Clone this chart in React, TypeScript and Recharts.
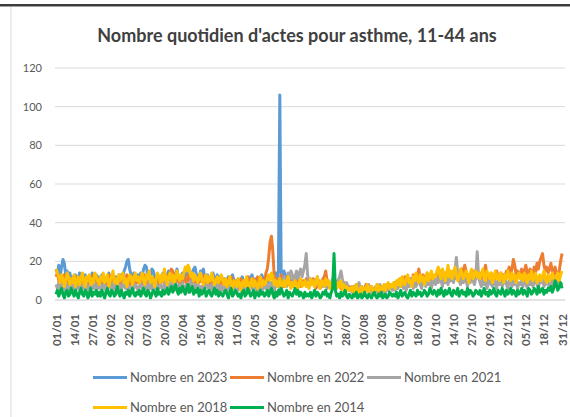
import React from "react";
import { LineChart, Line, XAxis, YAxis, CartesianGrid, Legend } from "recharts";

const MONTH_DAYS = [31, 28, 31, 30, 31, 30, 31, 31, 30, 31, 30, 31];

const X_TICKS = [
  "01/01", "14/01", "27/01", "09/02", "22/02", "07/03", "20/03", "02/04", "15/04", "28/04",
  "11/05", "24/05", "06/06", "19/06", "02/07", "15/07", "28/07", "10/08", "23/08", "05/09",
  "18/09", "01/10", "14/10", "27/10", "09/11", "22/11", "05/12", "18/12", "31/12",
];
const Y_TICKS = [0, 20, 40, 60, 80, 100, 120];

// 2023 (data until mid-June)
const S2023 = [
  16, 14, 18, 12, 17, 21, 19, 13, 15, 11, 14, 9, 12, 10, 13, 8, 11, 14, 10, 12, 9, 13, 11, 8, 12, 10, 14, 9, 11, 13, 10,
  12, 9, 13, 11, 10, 8, 12, 14, 11, 9, 13, 10, 12, 11, 9, 13, 10, 12, 15, 17, 20, 21, 16, 13, 11, 14, 12, 10,
  13, 11, 14, 12, 16, 18, 17, 13, 11, 12, 16, 15, 12, 10, 13, 11, 9, 12, 14, 11, 10, 13, 15, 12, 10, 14, 11, 13, 16, 12, 10,
  12, 14, 11, 13, 15, 12, 10, 13, 14, 16, 17, 13, 11, 12, 15, 14, 16, 12, 10, 13, 11, 9, 12, 14, 10, 11, 13, 9, 12, 10,
  9, 11, 8, 10, 12, 9, 11, 13, 10, 8, 9, 11, 7, 10, 12, 9, 8, 10, 11, 9, 12, 13, 10, 8, 11, 9, 10, 12, 13, 11, 9,
  10, 12, 9, 11, 13, 12, 10, 14, 11, 15, 106, 12, 9, 15, 13, 10, 12, 9, 11,
];

const S2022 = [
  12, 14, 10, 8, 11, 9, 13, 7, 10, 12, 8, 9, 11, 6, 10, 12, 9, 7, 10, 8, 11, 9, 12, 7, 10, 8, 11, 13, 9, 7, 10,
  9, 11, 8, 12, 10, 7, 9, 13, 11, 8, 10, 12, 9, 7, 11, 10, 8, 12, 9, 11, 13, 10, 8, 9, 12, 10, 7, 11,
  9, 12, 10, 8, 11, 13, 9, 7, 10, 12, 8, 11, 9, 10, 12, 8, 7, 11, 10, 9, 13, 12, 10, 14, 16, 15, 11, 9, 12, 10, 8,
  11, 9, 12, 10, 8, 13, 11, 9, 10, 12, 8, 7, 10, 9, 11, 13, 10, 8, 9, 11, 7, 10, 12, 9, 8, 11, 10, 7, 9, 12,
  8, 10, 7, 9, 11, 8, 12, 9, 7, 10, 8, 6, 9, 11, 7, 10, 8, 9, 12, 10, 7, 9, 11, 8, 10, 12, 9, 7, 11, 10, 8,
  14, 16, 22, 30, 33, 25, 12, 9, 11, 8, 10, 13, 9, 7, 10, 12, 8, 11, 9, 7, 10, 8, 12, 9, 11, 7, 9, 10, 8, 11,
  9, 7, 10, 8, 11, 9, 6, 8, 10, 7, 9, 11, 12, 15, 10, 8, 7, 9, 6, 8, 10, 7, 9, 8, 6, 7, 9, 5, 8, 6, 7,
  5, 7, 4, 6, 8, 5, 3, 6, 7, 4, 5, 8, 6, 4, 5, 7, 3, 6, 5, 8, 4, 6, 7, 5, 3, 6, 8, 5, 7, 6, 8,
  7, 9, 6, 10, 8, 11, 7, 9, 12, 8, 10, 7, 11, 9, 13, 10, 8, 12, 16, 11, 9, 13, 10, 12, 14, 9, 11, 13, 10, 12,
  11, 14, 10, 13, 15, 12, 9, 14, 11, 16, 13, 10, 12, 15, 11, 14, 12, 10, 13, 16, 14, 18, 15, 11, 13, 10, 14, 12, 15, 11, 13,
  12, 14, 11, 13, 15, 18, 13, 10, 12, 14, 11, 9, 13, 15, 12, 10, 14, 11, 13, 12, 15, 14, 17, 13, 16, 21, 18, 13, 15, 12,
  14, 16, 13, 15, 18, 14, 12, 16, 15, 13, 17, 14, 19, 16, 20, 22, 24, 18, 15, 17, 14, 16, 19, 15, 13, 17, 14, 12, 15, 20, 24,
];

const S2021 = [
  8, 6, 9, 5, 7, 10, 6, 4, 8, 7, 5, 9, 6, 8, 4, 7, 9, 5, 6, 8, 7, 5, 9, 6, 4, 8, 7, 6, 9, 5, 7,
  6, 8, 5, 7, 9, 4, 6, 8, 7, 5, 9, 6, 4, 7, 8, 6, 5, 9, 7, 6, 8, 4, 7, 5, 9, 6, 8, 7,
  5, 7, 9, 6, 4, 8, 7, 5, 10, 6, 8, 4, 7, 9, 5, 6, 8, 7, 4, 9, 6, 5, 8, 7, 10, 6, 5, 9, 7, 4, 8,
  6, 9, 5, 7, 8, 4, 6, 10, 7, 5, 8, 6, 9, 4, 7, 5, 8, 6, 7, 9, 5, 4, 8, 6, 7, 5, 9, 6, 4, 7,
  5, 8, 6, 4, 7, 9, 5, 6, 8, 4, 7, 5, 9, 6, 3, 7, 8, 5, 6, 4, 9, 7, 5, 8, 6, 4, 7, 9, 5, 6, 8,
  6, 8, 5, 7, 9, 6, 4, 8, 7, 10, 6, 9, 8, 12, 10, 7, 14, 11, 15, 13, 9, 12, 15, 11, 14, 16, 12, 15, 18, 24,
  13, 9, 11, 8, 10, 7, 9, 12, 8, 6, 10, 7, 9, 8, 6, 10, 7, 8, 11, 9, 6, 8, 10, 12, 15, 11, 8, 6, 9, 7, 5,
  6, 4, 7, 5, 8, 6, 9, 5, 3, 6, 4, 7, 5, 8, 4, 6, 3, 5, 7, 4, 6, 8, 5, 3, 6, 4, 7, 5, 6, 8, 5,
  7, 5, 8, 6, 9, 7, 10, 6, 8, 5, 9, 7, 11, 8, 6, 10, 7, 9, 12, 8, 6, 10, 9, 7, 11, 8, 10, 6, 9, 12,
  8, 11, 9, 13, 10, 7, 12, 9, 11, 8, 14, 10, 12, 9, 15, 22, 13, 10, 8, 11, 9, 12, 10, 7, 11, 9, 13, 10, 8, 12, 25,
  12, 9, 7, 10, 8, 11, 6, 9, 12, 8, 7, 10, 9, 6, 11, 8, 10, 7, 9, 12, 8, 6, 10, 9, 7, 11, 8, 10, 6, 9,
  8, 10, 7, 12, 9, 6, 11, 8, 10, 7, 9, 13, 8, 6, 10, 9, 12, 7, 8, 11, 9, 6, 10, 8, 12, 9, 7, 11, 10, 8, 9,
];

const S2018 = [
  16, 14, 12, 9, 13, 11, 7, 10, 14, 12, 8, 11, 9, 13, 7, 10, 12, 8, 11, 14, 9, 7, 12, 10, 13, 8, 11, 9, 14, 12, 10,
  8, 12, 10, 14, 9, 11, 13, 7, 10, 12, 15, 9, 11, 8, 13, 10, 12, 14, 9, 11, 7, 10, 13, 12, 8, 11, 14, 10,
  12, 9, 11, 14, 10, 8, 13, 11, 15, 9, 12, 10, 7, 11, 14, 12, 9, 13, 10, 16, 11, 8, 12, 14, 10, 13, 9, 11, 15, 12, 10,
  13, 11, 14, 17, 15, 18, 16, 12, 14, 10, 13, 11, 9, 12, 14, 10, 8, 11, 13, 9, 12, 10, 14, 11, 8, 10, 12, 9, 11, 13,
  10, 8, 11, 7, 9, 12, 8, 6, 10, 9, 7, 11, 8, 5, 9, 10, 7, 12, 8, 6, 9, 11, 7, 10, 8, 6, 9, 12, 7, 10, 8,
  9, 11, 13, 10, 14, 12, 8, 10, 7, 9, 11, 6, 8, 10, 7, 9, 12, 8, 6, 9, 7, 10, 8, 6, 9, 11, 7, 8, 10, 7,
  9, 6, 11, 8, 10, 7, 9, 12, 8, 6, 10, 9, 7, 11, 8, 10, 6, 9, 7, 11, 8, 6, 9, 7, 10, 5, 8, 6, 7, 5, 6,
  5, 7, 4, 6, 8, 5, 3, 6, 7, 4, 6, 5, 8, 4, 6, 7, 5, 3, 6, 8, 5, 7, 4, 6, 8, 5, 7, 9, 6, 8, 7,
  9, 6, 10, 8, 11, 7, 12, 9, 8, 11, 13, 9, 10, 7, 12, 10, 14, 11, 9, 13, 10, 12, 8, 11, 14, 10, 12, 15, 11, 13,
  12, 15, 17, 13, 11, 16, 14, 10, 13, 18, 12, 15, 11, 14, 17, 13, 10, 12, 16, 14, 11, 13, 15, 12, 9, 14, 16, 11, 13, 15, 12,
  14, 11, 13, 16, 12, 10, 15, 13, 11, 14, 9, 12, 15, 11, 13, 10, 14, 12, 9, 13, 11, 15, 12, 10, 14, 11, 13, 9, 12, 14,
  11, 13, 10, 14, 12, 9, 13, 11, 15, 10, 12, 14, 9, 11, 13, 10, 12, 15, 11, 9, 13, 10, 12, 14, 11, 9, 12, 14, 10, 13, 15,
];

const S2014 = [
  3, 5, 2, 4, 6, 3, 1, 4, 5, 2, 3, 6, 4, 2, 5, 3, 1, 4, 6, 3, 2, 5, 4, 1, 3, 6, 2, 4, 3, 5, 2,
  4, 2, 5, 3, 1, 4, 6, 3, 2, 5, 4, 2, 3, 7, 4, 2, 5, 3, 1, 4, 3, 5, 2, 4, 6, 3, 2, 4,
  3, 5, 2, 4, 6, 3, 2, 5, 4, 1, 3, 5, 4, 2, 6, 3, 4, 2, 5, 3, 4, 6, 3, 5, 7, 4, 6, 8, 5, 3, 6,
  4, 7, 5, 3, 6, 8, 4, 5, 7, 3, 5, 4, 6, 2, 5, 3, 4, 6, 2, 4, 5, 3, 2, 4, 6, 3, 5, 2, 4, 3,
  2, 4, 5, 3, 1, 4, 6, 2, 3, 5, 4, 2, 3, 1, 4, 5, 2, 3, 6, 4, 2, 3, 5, 1, 4, 3, 2, 5, 3, 4, 2,
  3, 5, 2, 4, 6, 3, 1, 4, 2, 5, 3, 6, 4, 2, 3, 5, 1, 4, 3, 2, 4, 6, 3, 5, 2, 4, 3, 1, 4, 2,
  3, 2, 4, 1, 3, 5, 2, 4, 3, 1, 2, 4, 3, 5, 2, 3, 1, 4, 6, 24, 5, 2, 3, 1, 4, 2, 3, 5, 2, 1, 3,
  2, 1, 3, 2, 4, 1, 2, 3, 1, 2, 4, 2, 1, 3, 2, 1, 3, 4, 2, 1, 3, 2, 4, 1, 2, 3, 1, 2, 4, 3, 2,
  3, 2, 4, 1, 3, 5, 2, 3, 4, 2, 1, 3, 5, 2, 4, 3, 2, 5, 3, 4, 2, 3, 5, 4, 2, 3, 6, 4, 3, 5,
  4, 2, 5, 3, 6, 4, 2, 5, 3, 4, 6, 3, 2, 5, 4, 3, 6, 2, 4, 5, 3, 4, 2, 6, 3, 5, 4, 2, 3, 5, 4,
  3, 5, 2, 4, 6, 3, 4, 2, 5, 3, 4, 6, 3, 2, 5, 4, 3, 6, 4, 2, 5, 3, 4, 6, 3, 5, 4, 2, 5, 3,
  4, 6, 3, 5, 4, 2, 6, 5, 3, 4, 6, 5, 3, 7, 4, 5, 6, 3, 5, 4, 6, 5, 7, 4, 6, 10, 8, 5, 7, 9, 6,
];

const SERIES = [
  { key: "y2023", name: "Nombre en 2023", color: "#5B9BD5", values: S2023 },
  { key: "y2022", name: "Nombre en 2022", color: "#ED7D31", values: S2022 },
  { key: "y2021", name: "Nombre en 2021", color: "#A5A5A5", values: S2021 },
  { key: "y2018", name: "Nombre en 2018", color: "#FFC000", values: S2018 },
  { key: "y2014", name: "Nombre en 2014", color: "#00B050", values: S2014 },
];

const pad = (n: number) => (n < 10 ? "0" + n : "" + n);
const DATES: string[] = [];
MONTH_DAYS.forEach((len, m) => {
  for (let d = 1; d <= len; d++) DATES.push(pad(d) + "/" + pad(m + 1));
});

const DATA = DATES.map((date, i) => {
  const row: Record<string, any> = { date };
  SERIES.forEach((s) => {
    row[s.key] = i < s.values.length ? s.values[i] : null;
  });
  return row;
});

const FONT = "Lato, 'Open Sans', sans-serif";

const XTick = (props: any) => {
  const { x, y, payload } = props;
  return (
    <text
      x={x}
      y={y}
      transform={`rotate(-90 ${x} ${y})`}
      textAnchor="end"
      dominantBaseline="central"
      fontSize={11.5}
      fontWeight="bold"
      fill="#595959"
      fontFamily={FONT}
    >
      {payload.value}
    </text>
  );
};

const LegendContent = (props: any) => {
  const payload = [...(props.payload || [])].sort(
    (a: any, b: any) =>
      SERIES.findIndex((s) => s.name === a.value) - SERIES.findIndex((s) => s.name === b.value)
  );
  return (
    <div style={{ display: "flex", flexWrap: "wrap", width: 411, rowGap: 12 }}>
      {payload.map((p: any) => (
        <div key={p.value} style={{ width: 137, display: "flex", alignItems: "center", height: 18 }}>
          <div style={{ width: 34, height: 3, background: p.color, marginRight: 3 }} />
          <span style={{ fontFamily: FONT, fontSize: 13, color: "#595959", whiteSpace: "nowrap" }}>{p.value}</span>
        </div>
      ))}
    </div>
  );
};

export default function App() {
  return (
    <div style={{ position: "absolute", left: 0, top: 0, width: 570, height: 417, background: "#fff", overflow: "hidden" }}>
      <div style={{ position: "absolute", left: 0, top: 4, width: 570, height: 2, background: "#3c3c3c" }} />
      <div style={{ position: "absolute", left: 0, top: 6, width: 570, height: 1, background: "#a0a0a0" }} />
      <div style={{ position: "absolute", left: 10, top: 7, width: 2, height: 410, background: "#ececec" }} />
      <div
        style={{
          position: "absolute",
          left: 0,
          top: 24,
          width: 594,
          textAlign: "center",
          fontFamily: FONT,
          fontWeight: "bold",
          fontSize: 18,
          color: "#404040",
        }}
      >
        Nombre quotidien d'actes pour asthme, 11-44 ans
      </div>
      <div style={{ position: "absolute", left: 0, top: 0 }}>
        <LineChart width={570} height={417} data={DATA} margin={{ top: 68, right: 5, bottom: 57, left: 10 }}>
          <CartesianGrid vertical={false} stroke="#d9d9d9" />
          <XAxis
            dataKey="date"
            ticks={X_TICKS}
            interval={0}
            tick={<XTick />}
            tickLine={false}
            tickSize={0}
            tickMargin={14}
            padding={{ left: 1, right: 3 }}
            axisLine={{ stroke: "#d9d9d9" }}
            height={60}
          />
          <YAxis
            domain={[0, 120]}
            ticks={Y_TICKS}
            width={45}
            tickLine={false}
            tickSize={0}
            tickMargin={13}
            axisLine={false}
            tick={{ fontSize: 11, fill: "#595959", fontFamily: FONT }}
          />
          <Legend
            layout="horizontal"
            verticalAlign="middle"
            align="center"
            itemSorter={null as any}
            content={<LegendContent />}
            wrapperStyle={{ position: "absolute", left: 93, top: 368, width: 411, height: 48 }}
          />
          {SERIES.map((s) => (
            <Line
              key={s.key}
              dataKey={s.key}
              name={s.name}
              stroke={s.color}
              strokeWidth={3}
              dot={false}
              activeDot={false}
              isAnimationActive={false}
              connectNulls={false}
              strokeLinejoin="round"
            />
          ))}
        </LineChart>
      </div>
    </div>
  );
}
